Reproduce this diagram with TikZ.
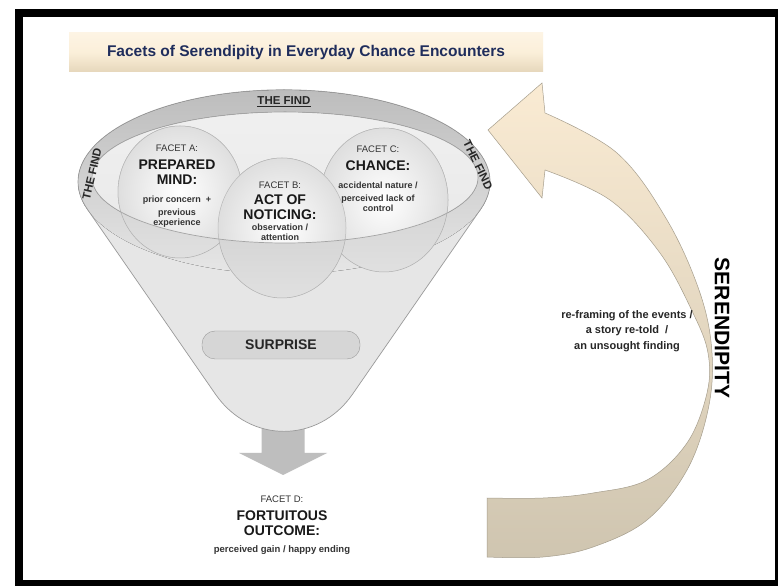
\documentclass[tikz,border=0pt]{standalone}
\usepackage{fontspec}
\setmainfont{Liberation Sans}
\usetikzlibrary{positioning}
\definecolor{titlenavy}{HTML}{1F2D5C}
\definecolor{titletop}{HTML}{FDF4E4}
\definecolor{titlemid}{HTML}{FBEFD9}
\definecolor{titlebottom}{HTML}{E6D7BB}
\definecolor{funnelgrey}{HTML}{E6E6E6}
\definecolor{edgegrey}{HTML}{9A9A9A}
\definecolor{bandgrey}{HTML}{BDBDBD}
\definecolor{openinggrey}{HTML}{E9E9E9}
\definecolor{lowgrey}{HTML}{C8C8C8}
\definecolor{arrowgrey}{HTML}{BEBEBE}
\definecolor{creamtop}{HTML}{FAEBD3}
\definecolor{creambottom}{HTML}{CFC5B0}
\definecolor{textgrey}{HTML}{333333}

\tikzset{
  titlebox/.style={top color=titletop, bottom color=titlebottom, middle color=titlemid,
    minimum width=474pt, minimum height=39pt, inner sep=0pt, text=titlenavy,
    font=\bfseries\fontsize{15.5}{17}\selectfont},
  funnel/.style={fill=funnelgrey},
  rim/.style={draw=edgegrey, line width=0.7pt},
  spherelow/.style={top color=lowgrey, bottom color=funnelgrey!80!lowgrey, draw=edgegrey!80, line width=0.5pt},
  spheretop/.style={inner color=white, outer color=openinggrey!90!gray, draw=edgegrey!70, line width=0.5pt},
  facetlabel/.style={font=\fontsize{9.5}{11}\selectfont, text=textgrey, inner sep=0pt},
  facettitle/.style={font=\bfseries\fontsize{14}{15}\selectfont, align=center, inner sep=0pt, text=black!90},
  facetnote/.style={font=\bfseries\fontsize{9}{10}\selectfont, align=center, inner sep=0pt, text=textgrey},
  surprisebox/.style={fill=lowgrey!75, draw=edgegrey, rounded corners=13pt, minimum width=158pt,
    minimum height=28pt, font=\bfseries\fontsize{14}{16}\selectfont, text=black!85},
  findtext/.style={font=\bfseries\fontsize{11.5}{12}\selectfont, text=black!85, inner sep=0pt},
  serarrow/.style={top color=creamtop, bottom color=creambottom, draw=creambottom!80!black, line width=0.5pt},
  downarrow/.style={fill=arrowgrey},
}

\begin{document}
\begin{tikzpicture}[x=1pt,y=1pt]
    \useasboundingbox (0,0) rectangle (778,586);

    % the black frame
    \fill[black] (15,0) rectangle (778,577);
    \fill[white] (23,6) rectangle (775,569);

    % title banner
    \node[titlebox] (title) at (306,533.5) {Facets of Serendipity in Everyday Chance Encounters};

    % the curved serendipity arrow
    \path[serarrow] (542,503) -- (545,473)
        -- plot[smooth, tension=0.6] coordinates {(545,473) (617,433) (667,366) (700,293) (712,233)
           (708,176) (687,116) (647,66) (593,39) (543,29) (487,29)}
        -- (487,88)
        -- plot[smooth, tension=0.6] coordinates {(487,88) (543,88) (593,93) (647,106) (687,143)
           (707,193) (708,233) (693,273) (660,333) (610,386) (545,416)}
        -- (542,388) -- (488,456) -- cycle;

    % down arrow below the funnel
    \fill[downarrow] (261.5,165) -- (261.5,133) -- (239,133) -- (283,111)
        -- (327,133) -- (304.5,133) -- (304.5,165) -- cycle;

    % funnel body and rim
    \fill[funnel] (87.2,377) -- (215.6,191.6) .. controls (249.8,142.3) and (318.2,142.3) .. (352.4,191.6)
        -- (480.8,377) arc[start angle=-17.2, end angle=197.2, x radius=206, y radius=92] -- cycle;
    \fill[top color=bandgrey, bottom color=funnelgrey] (284,404) ellipse [x radius=206, y radius=92];
    \draw[rim] (87.2,377) -- (215.6,191.6) .. controls (249.8,142.3) and (318.2,142.3) .. (352.4,191.6)
        -- (480.8,377) arc[start angle=-17.2, end angle=197.2, x radius=206, y radius=92] -- cycle;
    \fill[top color=openinggrey!70!white, bottom color=openinggrey] (285,408.5) ellipse [x radius=193, y radius=65.5];

    % the three spheres: parts below the opening
    \foreach \cx/\cy/\rx/\ry in {180/394/62/66, 384/386/64/72, 282/358/64/70}
        \draw[spherelow] (\cx,\cy) ellipse [x radius=\rx, y radius=\ry];

    % the three spheres: parts inside the opening
    \begin{scope}
        \clip (285,408.5) ellipse [x radius=193, y radius=65.5];
        \foreach \cx/\cy/\rx/\ry in {180/394/62/66, 384/386/64/72, 282/358/64/70}
            \draw[spheretop] (\cx,\cy) ellipse [x radius=\rx, y radius=\ry];
    \end{scope}
    \draw[rim, draw=edgegrey!90] (285,408.5) ellipse [x radius=193, y radius=65.5];

    % THE FIND round the rim
    \node[findtext] (findtop) at (284,484) {\underline{THE FIND}};
    \node[findtext, rotate=77] (findleft) at (92,412) {THE FIND};
    \node[findtext, rotate=-64] (findright) at (478,421) {THE FIND};

    % facet A
    \node[facetlabel] (facetA-label) at (177,438) {FACET A:};
    \node[facettitle] (facetA-title) at (177,413.5) {PREPARED\\MIND:};
    \node[facetnote] (facetA-note) at (177,374) {prior concern~~+\\[3pt]previous\\experience};

    % facet B
    \node[facetlabel] (facetB-label) at (280,401) {FACET B:};
    \node[facettitle] (facetB-title) at (280,378.5) {ACT OF\\NOTICING:};
    \node[facetnote] (facetB-note) at (280,354) {observation /\\attention};

    % facet C
    \node[facetlabel] (facetC-label) at (378,437) {FACET C:};
    \node[facettitle] (facetC-title) at (378,420) {CHANCE:};
    \node[facetnote] (facetC-note) at (378,389) {accidental nature /\\[3pt]perceived lack of\\control};

    % surprise band
    \node[surprisebox] (surprise) at (281,241) {SURPRISE};

    % facet D
    \node[facetlabel] (facetD-label) at (282,87) {FACET D:};
    \node[facettitle] (facetD-title) at (282,63) {FORTUITOUS\\OUTCOME:};
    \node[facetnote, font=\bfseries\fontsize{9.5}{11}\selectfont] (facetD-note) at (282,36) {perceived gain / happy ending};

    % serendipity labels
    \node[rotate=-90, font=\bfseries\fontsize{21}{24}\selectfont, inner sep=0pt] (serendipity) at (722,258) {SERENDIPITY};
    \node[align=center, font=\bfseries\fontsize{11}{15.5}\selectfont, text=black!85, inner sep=0pt] (reframing) at (627,255)
        {re-framing of the events /\\a story re-told~~/\\an unsought finding};
\end{tikzpicture}
\end{document}
